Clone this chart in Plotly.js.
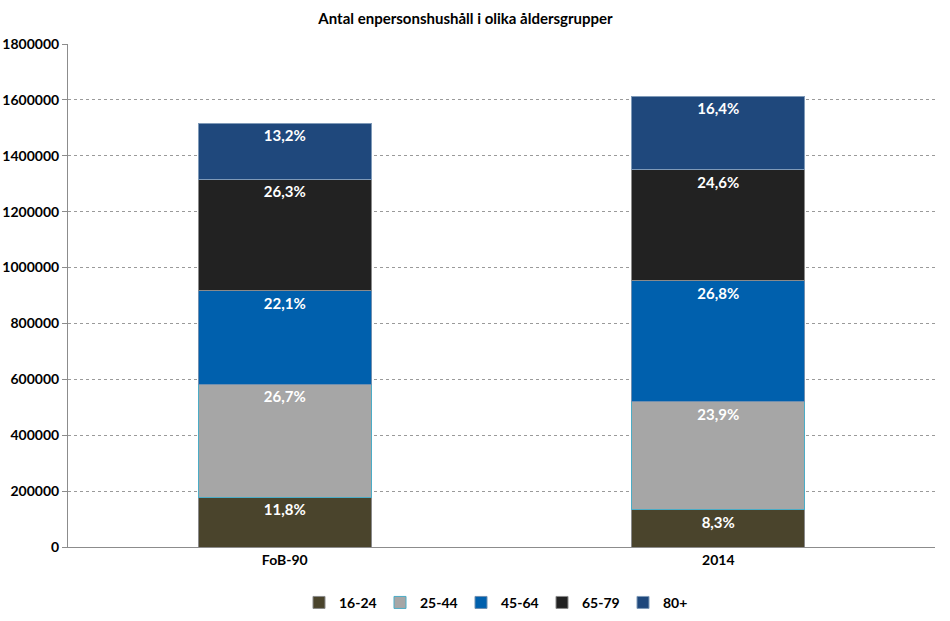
<!DOCTYPE html>
<html><head><meta charset="utf-8">
<script src="https://cdn.plot.ly/plotly-3.0.1.min.js"></script>
<style>html,body{margin:0;padding:0;background:#fff}#chart{width:950px;height:621px}</style>
</head><body><div id="chart"></div>
<script>
const categories = ["FoB-90", "2014"];
const seriesNames = ["16-24", "25-44", "45-64", "65-79", "80+"];
const v1624 = [178700, 133900];
const v2544 = [404300, 385800];
const v4564 = [334600, 432500];
const v6579 = [398200, 397000];
const v80   = [199900, 264700];
const p1624 = ["11,8%", "8,3%"];
const p2544 = ["26,7%", "23,9%"];
const p4564 = ["22,1%", "26,8%"];
const p6579 = ["26,3%", "24,6%"];
const p80   = ["13,2%", "16,4%"];
const yTicks = [0, 200000, 400000, 600000, 800000, 1000000, 1200000, 1400000, 1600000, 1800000];

const values = [v1624, v2544, v4564, v6579, v80];
const labels = [p1624, p2544, p4564, p6579, p80];
const colors = ["#4a442c", "#a6a6a6", "#0060ad", "#222222", "#1f487c"];
const lineColors = ["#8a8a8a", "#4bacc6", "#6f8fb0", "#8a8a8a", "#7f9ab8"];
const FONT = "Lato, 'Open Sans', sans-serif";

const traces = seriesNames.map((n, i) => ({
  type: "bar", name: n, x: categories, y: values[i],
  text: labels[i], textposition: "inside", insidetextanchor: "end",
  textfont: {family: FONT, size: 15, color: "#ffffff", weight: "bold"},
  marker: {color: colors[i], line: {color: lineColors[i], width: 1}},
  hoverinfo: "none", cliponaxis: false
}));

const layout = {
  width: 950, height: 621,
  margin: {l: 68, r: 15, t: 44, b: 74, autoexpand: false},
  barmode: "stack", bargap: 0.6,
  paper_bgcolor: "#fff", plot_bgcolor: "#fff",
  font: {family: FONT, size: 14, color: "#000"},
  title: {text: "<b>Antal enpersonshushåll i olika åldersgrupper</b>", x: 0.49, xanchor: "center", y: 0.978, yanchor: "top",
          font: {family: FONT, size: 15, color: "#000"}},
  xaxis: {type: "category", showgrid: false, showline: true, linecolor: "#8c8c8c", linewidth: 1,
          ticks: "", tickfont: {family: FONT, size: 14, color: "#000", weight: "bold"}, zeroline: false},
  yaxis: {range: [0, 1800000], tickvals: yTicks, ticktext: yTicks.map(String),
          showgrid: true, gridcolor: "#9a9a9a", griddash: "dot", gridwidth: 1,
          showline: true, linecolor: "#8c8c8c", linewidth: 1, ticks: "outside", ticklen: 5, tickcolor: "#8c8c8c",
          tickfont: {family: FONT, size: 14, color: "#000", weight: "bold"}, zeroline: false},
  legend: {orientation: "h", x: 0.5, xanchor: "center", yref: "container", y: 0.055, yanchor: "top",
           font: {family: FONT, size: 14, color: "#000", weight: "bold"}, itemwidth: 30,
           entrywidth: 36, entrywidthmode: "pixels", traceorder: "normal"},
  showlegend: true
};
Plotly.newPlot("chart", traces, layout, {displayModeBar: false, staticPlot: true});
</script></body></html>
